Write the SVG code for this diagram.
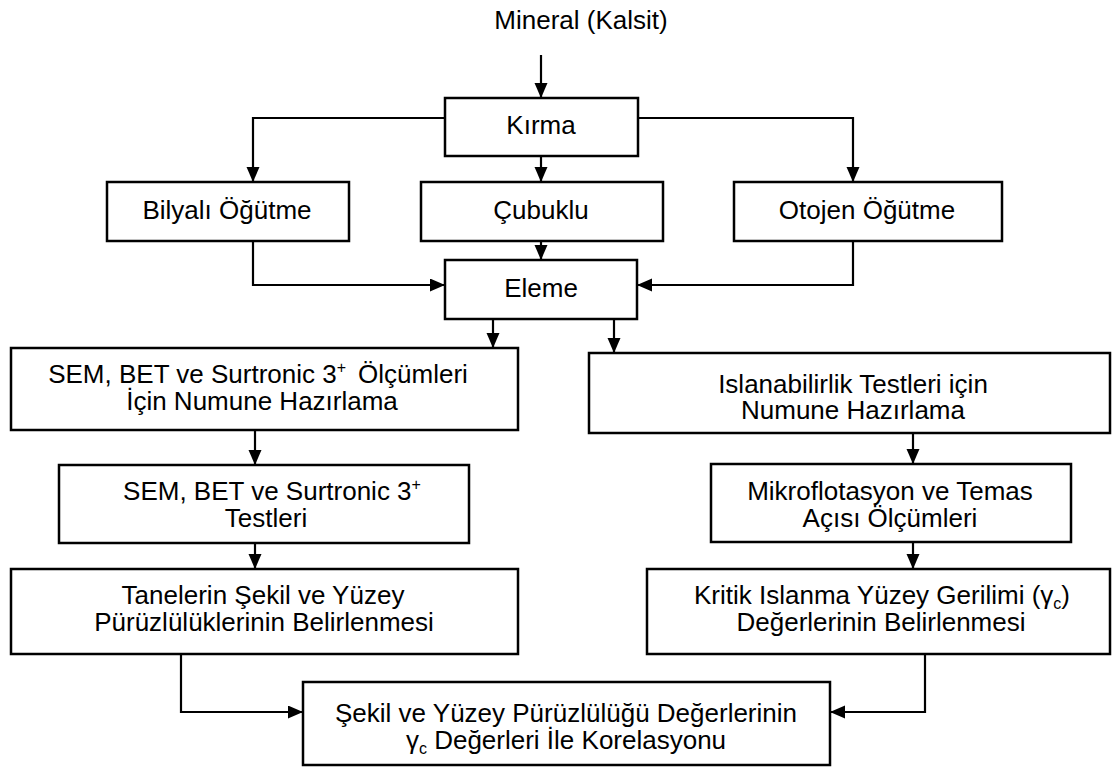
<svg xmlns="http://www.w3.org/2000/svg" width="1112" height="767" viewBox="0 0 1112 767">
<defs>
<marker id="arr" markerUnits="userSpaceOnUse" markerWidth="16" markerHeight="14" refX="15" refY="6.5" orient="auto">
<path d="M0,0 L15,6.5 L0,13 z" fill="#000"/>
</marker>
<style>
.box{fill:#fff;stroke:#000;stroke-width:2.5}
.t{font-family:"Liberation Sans",Arial,Helvetica,sans-serif;font-size:26px;fill:#000;text-anchor:middle}
.sup{font-size:16px}
.con{fill:none;stroke:#000;stroke-width:2.2;marker-end:url(#arr)}
</style>
</defs>
<rect width="1112" height="767" fill="#fff"/>
<g id="connectors">
<path class="con" d="M541,55 V98"/>
<path class="con" d="M445,118 H253 V182"/>
<path class="con" d="M541,156 V182"/>
<path class="con" d="M638,118 H853 V182"/>
<path class="con" d="M253,241 V285 H445"/>
<path class="con" d="M541,241 V260"/>
<path class="con" d="M853,241 V285 H637"/>
<path class="con" d="M493,319 V348"/>
<path class="con" d="M614,319 V353"/>
<path class="con" d="M255,430 V465"/>
<path class="con" d="M913,433 V464"/>
<path class="con" d="M255,543 V569"/>
<path class="con" d="M913,542 V569"/>
<path class="con" d="M181,654 V712 H303"/>
<path class="con" d="M925,654 V712 H830"/>
</g>
<g id="mineral">
<text class="t" x="581" y="29">Mineral (Kalsit)</text>
</g>
<g id="kirma">
<rect class="box" x="445" y="98" width="193" height="58"/>
<text class="t" x="541" y="134">Kırma</text>
</g>
<g id="bilyali">
<rect class="box" x="107" y="182" width="242" height="59"/>
<text class="t" x="227" y="219">Bilyalı Öğütme</text>
</g>
<g id="cubuklu">
<rect class="box" x="421" y="182" width="242" height="59"/>
<text class="t" x="541" y="219">Çubuklu</text>
</g>
<g id="otojen">
<rect class="box" x="734" y="182" width="268" height="59"/>
<text class="t" x="867" y="219">Otojen Öğütme</text>
</g>
<g id="eleme">
<rect class="box" x="445" y="260" width="192" height="59"/>
<text class="t" x="541" y="297">Eleme</text>
</g>
<g id="sem-hazirlama">
<rect class="box" x="11" y="348" width="507" height="82"/>
<text class="t" x="258" y="383">SEM, BET ve Surtronic 3<tspan class="sup" dy="-10">+</tspan><tspan dx="12" dy="10">Ölçümleri</tspan></text>
<text class="t" x="262" y="410">İçin Numune Hazırlama</text>
</g>
<g id="islan-hazirlama">
<rect class="box" x="589" y="353" width="521" height="80"/>
<text class="t" x="853" y="393">Islanabilirlik Testleri için</text>
<text class="t" x="853" y="419">Numune Hazırlama</text>
</g>
<g id="sem-testleri">
<rect class="box" x="59" y="465" width="410" height="78"/>
<text class="t" x="272" y="500">SEM, BET ve Surtronic 3<tspan class="sup" dy="-10">+</tspan></text>
<text class="t" x="266" y="527">Testleri</text>
</g>
<g id="mikroflotasyon">
<rect class="box" x="711" y="464" width="360" height="78"/>
<text class="t" x="890" y="500">Mikroflotasyon ve Temas</text>
<text class="t" x="890" y="527">Açısı Ölçümleri</text>
</g>
<g id="tanelerin">
<rect class="box" x="11" y="569" width="507" height="85"/>
<text class="t" x="263" y="604">Tanelerin Şekil ve Yüzey</text>
<text class="t" x="264" y="631">Pürüzlülüklerinin Belirlenmesi</text>
</g>
<g id="kritik">
<rect class="box" x="647" y="569" width="463" height="85"/>
<text class="t" x="882" y="604">Kritik Islanma Yüzey Gerilimi (γ<tspan class="sup" dy="5">c</tspan><tspan dy="-5">)</tspan></text>
<text class="t" x="881" y="631">Değerlerinin Belirlenmesi</text>
</g>
<g id="korelasyon">
<rect class="box" x="303" y="682" width="527" height="83"/>
<text class="t" x="566" y="722">Şekil ve Yüzey Pürüzlülüğü Değerlerinin</text>
<text class="t" x="566" y="749">γ<tspan class="sup" dy="5">c</tspan><tspan dy="-5"> Değerleri İle Korelasyonu</tspan></text>
</g>
</svg>
